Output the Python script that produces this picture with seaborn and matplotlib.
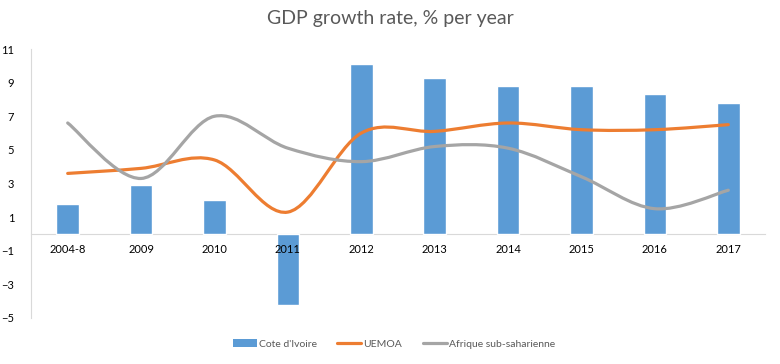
import numpy as np
import matplotlib
matplotlib.use('Agg')
import matplotlib.pyplot as plt
import seaborn as sns
from matplotlib.path import Path
from matplotlib.patches import PathPatch, Patch
from matplotlib.lines import Line2D

# Donnees
categories = ['2004-8', '2009', '2010', '2011', '2012', '2013', '2014', '2015', '2016', '2017']
cote_ivoire = [1.8, 2.9, 2.0, -4.2, 10.1, 9.3, 8.8, 8.8, 8.3, 7.8]
uemoa = [3.6, 3.9, 4.4, 1.3, 6.0, 6.1, 6.6, 6.2, 6.2, 6.5]
afrique_ss = [6.6, 3.3, 7.0, 5.1, 4.3, 5.2, 5.1, 3.4, 1.5, 2.6]

BLUE = '#5B9BD5'
ORANGE = '#ED7D31'
GREY = '#A5A5A5'
TXT = '#595959'


def courbe_lissee(xs, ys):
    # courbe de Bezier type "ligne lissee" Excel passant par les points
    pts = np.column_stack([xs, ys]).astype(float)
    n = len(pts)
    verts = [pts[0]]
    codes = [Path.MOVETO]
    for i in range(n - 1):
        p0 = pts[i - 1] if i > 0 else pts[i]
        p1 = pts[i]
        p2 = pts[i + 1]
        p3 = pts[i + 2] if i + 2 < n else pts[i + 1]
        c1 = p1 + (p2 - p0) / 6.0
        c2 = p2 - (p3 - p1) / 6.0
        verts += [c1, c2, p2]
        codes += [Path.CURVE4] * 3
    return Path(verts, codes)


sns.set_style('white')
plt.rcParams['font.family'] = ['Lato', 'DejaVu Sans']

fig = plt.figure(figsize=(7.8, 3.64), dpi=100)
ax = fig.add_axes([31 / 780, 1 - 318 / 364, 734 / 780, 269 / 364])

sns.barplot(x=categories, y=cote_ivoire, color=BLUE, width=0.31, saturation=1, ax=ax, zorder=2)

x_pos = np.arange(len(categories))
for vals, col in [(uemoa, ORANGE), (afrique_ss, GREY)]:
    ax.add_patch(PathPatch(courbe_lissee(x_pos, vals), facecolor='none', edgecolor=col,
                           lw=2.3, capstyle='round', zorder=3))

ax.set_xlim(-0.5, len(categories) - 0.5)
ax.set_ylim(-5, 11)
ax.set_yticks(range(-5, 12, 2))

for s in ['top', 'right']:
    ax.spines[s].set_visible(False)
ax.spines['left'].set_color('#D9D9D9')
ax.spines['bottom'].set_color('#D9D9D9')
ax.spines['bottom'].set_position(('data', 0))
ax.spines['bottom'].set_zorder(1)

ax.tick_params(axis='y', direction='out', length=4, color='#D9D9D9', labelsize=8,
               labelcolor='black', pad=8)
ax.tick_params(axis='x', length=0, labelsize=8, labelcolor='black', pad=7)
ax.xaxis.set_zorder(5)
ax.set_xlabel('')
ax.set_ylabel('')

fig.text(0.5, 0.95, 'GDP growth rate, % per year', ha='center', va='center',
         fontsize=14, color=TXT)

handles = [Patch(facecolor=BLUE, edgecolor='none'),
           Line2D([0], [0], color=ORANGE, lw=2.3),
           Line2D([0], [0], color=GREY, lw=2.3)]
fig.legend(handles, ["Cote d'Ivoire", 'UEMOA', 'Afrique sub-saharienne'],
           loc='center', bbox_to_anchor=(0.505, 1 - 344 / 364), ncol=3, frameon=False,
           fontsize=7.5, labelcolor=TXT, handlelength=2.3, handletextpad=0.2,
           columnspacing=2.0)

fig.savefig('out.png', dpi=100)
